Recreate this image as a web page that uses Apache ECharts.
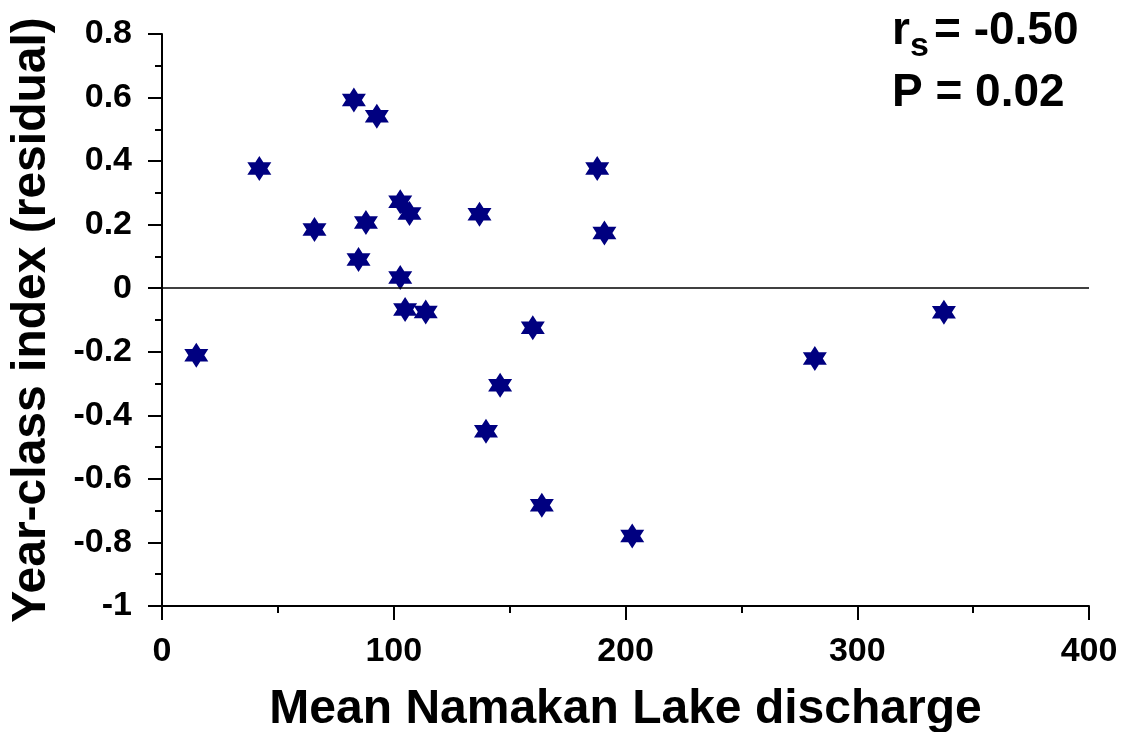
<!DOCTYPE html>
<html>
<head>
<meta charset="utf-8">
<script src="https://cdn.jsdelivr.net/npm/echarts@6/dist/echarts.min.js"></script>
<style>
  html, body { margin: 0; padding: 0; background: #ffffff; }
  #chart { width: 1123px; height: 732px; }
</style>
</head>
<body>
<div id="chart"></div>
<script>
// Mean Namakan Lake discharge vs. year-class index residuals
const discharge = [14.8, 42.0, 65.8, 82.8, 84.8, 88.0, 92.7, 102.8, 106.8, 102.8, 104.9,
                   113.8, 137.0, 139.8, 145.9, 160.0, 163.9, 187.8, 190.9, 202.9, 281.7, 337.4];
const residual  = [-0.211, 0.377, 0.185, 0.592, 0.090, 0.207, 0.541, 0.272, 0.235, 0.034, -0.067,
                   -0.075, 0.233, -0.450, -0.305, -0.124, -0.683, 0.377, 0.174, -0.780, -0.221, -0.076];
const yTickLabels = ['-1', '-0.8', '-0.6', '-0.4', '-0.2', '0', '0.2', '0.4', '0.6', '0.8'];
const statLines = { rs: '-0.50', p: '0.02' };

const points = discharge.map((x, i) => [x, residual[i]]);

// six-pointed star marker
const hexagram = 'path://M0,-100 L28.9,-50 L86.6,-50 L57.7,0 L86.6,50 L28.9,50 L0,100 L-28.9,50 L-86.6,50 L-57.7,0 L-86.6,-50 L-28.9,-50 Z';

const font = '"Liberation Sans", Arial, sans-serif';
const chart = echarts.init(document.getElementById('chart'));

chart.setOption({
  animation: false,
  backgroundColor: '#ffffff',
  grid: { left: 162, right: 34, top: 34, bottom: 126, containLabel: false, outerBoundsMode: 'none' },
  xAxis: {
    type: 'value', min: 0, max: 400, interval: 100,
    name: 'Mean Namakan Lake discharge',
    nameLocation: 'middle', nameGap: 80,
    nameTextStyle: { fontFamily: font, fontWeight: 'bold', fontSize: 48, color: '#000' },
    axisLine: { onZero: false, lineStyle: { color: '#000', width: 2 } },
    axisTick: { show: true, length: 14, lineStyle: { color: '#000', width: 2 } },
    minorTick: { show: true, splitNumber: 2, length: 7, lineStyle: { color: '#000', width: 2 } },
    axisLabel: { margin: 29, fontFamily: font, fontWeight: 'bold', fontSize: 34, color: '#000' },
    splitLine: { show: false }
  },
  yAxis: {
    type: 'value', min: -1, max: 0.8, interval: 0.2,
    name: 'Year-class index (residual)',
    nameLocation: 'middle', nameGap: 106,
    nameTextStyle: { fontFamily: font, fontWeight: 'bold', fontSize: 48, color: '#000' },
    axisLine: { onZero: false, lineStyle: { color: '#000', width: 2 } },
    axisTick: { show: true, length: 14, lineStyle: { color: '#000', width: 2 } },
    minorTick: { show: true, splitNumber: 2, length: 7, lineStyle: { color: '#000', width: 2 } },
    axisLabel: {
      margin: 30, fontFamily: font, fontWeight: 'bold', fontSize: 34, color: '#000',
      formatter: v => yTickLabels[Math.round((v + 1) / 0.2)]
    },
    splitLine: { show: false }
  },
  series: [{
    type: 'scatter',
    data: points,
    symbol: hexagram,
    symbolSize: [24, 25],
    itemStyle: { color: '#000080', opacity: 1 },
    markLine: {
      silent: true,
      symbol: ['none', 'none'],
      label: { show: false },
      lineStyle: { color: '#000', width: 1.5, type: 'solid' },
      data: [{ yAxis: 0 }]
    }
  }],
  graphic: [
    { type: 'text', left: 892, top: 8,
      style: { text: 'r', font: 'bold 46px ' + font, fill: '#000' } },
    { type: 'text', left: 910, top: 30,
      style: { text: 's', font: 'bold 34px ' + font, fill: '#000' } },
    { type: 'text', left: 934, top: 8,
      style: { text: '= ' + statLines.rs, font: 'bold 46px ' + font, fill: '#000' } },
    { type: 'text', left: 892, top: 70,
      style: { text: 'P = ' + statLines.p, font: 'bold 46px ' + font, fill: '#000' } }
  ]
});
</script>
</body>
</html>
